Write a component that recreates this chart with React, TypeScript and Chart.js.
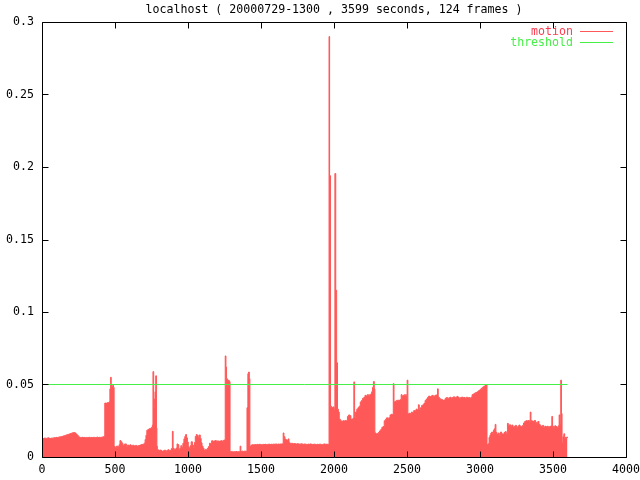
import React, { useEffect, useRef } from 'react';
import { Chart, registerables } from 'chart.js';

Chart.register(...registerables);

const titleText = 'localhost ( 20000729-1300 , 3599 seconds, 124 frames )';
const seriesNames = ['motion', 'threshold'];
const xTickValues = [0, 500, 1000, 1500, 2000, 2500, 3000, 3500, 4000];
const yTickValues = [0, 0.05, 0.1, 0.15, 0.2, 0.25, 0.3];

// motion samples: seconds
const motionTimes = [
  0, 8, 16, 24, 32, 40, 48, 56, 64, 72, 80, 88, 96, 104, 112, 120, 128, 136, 144, 152,
  160, 168, 176, 184, 192, 200, 208, 216, 224, 232, 240, 248, 256, 264, 272, 280, 288, 296, 304, 312,
  320, 328, 336, 344, 352, 360, 368, 376, 384, 392, 400, 408, 416, 424, 430, 438, 446, 454, 460, 465,
  470, 474, 479, 485, 490, 494, 500, 510, 520, 528, 534, 540, 547, 554, 562, 570, 578, 586, 594, 602,
  610, 620, 630, 640, 650, 660, 670, 680, 690, 700, 706, 712, 718, 726, 734, 742, 750, 756, 760, 765,
  770, 774, 779, 784, 787, 790, 798, 806, 814, 822, 830, 838, 846, 854, 862, 870, 878, 886, 893, 898,
  905, 913, 920, 925, 931, 937, 944, 951, 958, 965, 972, 978, 984, 990, 996, 1002, 1008, 1015, 1022, 1030,
  1037, 1044, 1050, 1057, 1063, 1070, 1077, 1084, 1090, 1096, 1103, 1110, 1118, 1125, 1132, 1140, 1147, 1154, 1162, 1170,
  1178, 1186, 1194, 1202, 1210, 1218, 1226, 1234, 1242, 1250, 1255, 1260, 1264, 1270, 1276, 1282, 1288, 1296, 1304, 1312,
  1320, 1328, 1336, 1344, 1352, 1357, 1362, 1370, 1378, 1386, 1394, 1400, 1404, 1410, 1415, 1420, 1424, 1432, 1440, 1448,
  1456, 1464, 1472, 1480, 1488, 1496, 1504, 1512, 1520, 1528, 1536, 1544, 1552, 1560, 1568, 1576, 1584, 1592, 1600, 1608,
  1616, 1624, 1632, 1640, 1648, 1652, 1657, 1664, 1672, 1680, 1686, 1692, 1700, 1708, 1716, 1724, 1732, 1740, 1748, 1756,
  1764, 1772, 1780, 1788, 1796, 1804, 1812, 1820, 1828, 1836, 1844, 1852, 1860, 1868, 1876, 1884, 1892, 1900, 1908, 1916,
  1924, 1932, 1940, 1948, 1956, 1962, 1966, 1970, 1976, 1984, 1992, 2000, 2006, 2012, 2018, 2024, 2030, 2036, 2044, 2052,
  2060, 2068, 2076, 2084, 2092, 2100, 2108, 2116, 2124, 2132, 2136, 2141, 2148, 2156, 2164, 2172, 2180, 2188, 2196, 2204,
  2212, 2220, 2228, 2236, 2244, 2252, 2258, 2264, 2270, 2276, 2280, 2288, 2296, 2304, 2312, 2320, 2328, 2336, 2344, 2352,
  2360, 2368, 2376, 2384, 2392, 2400, 2406, 2411, 2420, 2428, 2436, 2444, 2452, 2460, 2466, 2474, 2482, 2490, 2496, 2501,
  2506, 2514, 2522, 2530, 2538, 2546, 2554, 2562, 2570, 2578, 2584, 2592, 2600, 2608, 2616, 2624, 2632, 2640, 2648, 2656,
  2664, 2672, 2680, 2688, 2696, 2704, 2709, 2714, 2722, 2730, 2738, 2746, 2754, 2762, 2770, 2778, 2786, 2794, 2802, 2810,
  2818, 2826, 2834, 2842, 2850, 2858, 2866, 2874, 2882, 2890, 2898, 2906, 2914, 2922, 2930, 2938, 2946, 2954, 2962, 2970,
  2978, 2986, 2994, 3002, 3010, 3018, 3026, 3034, 3042, 3048, 3056, 3062, 3068, 3074, 3080, 3086, 3092, 3098, 3104, 3109,
  3116, 3124, 3132, 3140, 3148, 3156, 3164, 3172, 3180, 3188, 3194, 3202, 3210, 3218, 3226, 3234, 3242, 3250, 3258, 3266,
  3274, 3282, 3290, 3298, 3306, 3314, 3322, 3330, 3338, 3344, 3349, 3356, 3364, 3372, 3380, 3388, 3396, 3404, 3412, 3420,
  3428, 3436, 3444, 3452, 3460, 3468, 3476, 3484, 3492, 3497, 3504, 3512, 3520, 3528, 3536, 3542, 3548, 3553, 3558, 3562,
  3568, 3574, 3580, 3588, 3594, 3599,
];

const motionValues = [
  0.0130, 0.0127, 0.0131, 0.0128, 0.0130, 0.0132, 0.0129, 0.0127, 0.0131, 0.0130, 0.0133, 0.0132, 0.0135, 0.0134, 0.0137, 0.0139, 0.0140, 0.0142, 0.0145, 0.0147,
  0.0150, 0.0153, 0.0156, 0.0158, 0.0161, 0.0164, 0.0167, 0.0169, 0.0166, 0.0158, 0.0150, 0.0140, 0.0135, 0.0134, 0.0136, 0.0134, 0.0135, 0.0133, 0.0135, 0.0134,
  0.0136, 0.0133, 0.0135, 0.0134, 0.0136, 0.0134, 0.0135, 0.0137, 0.0134, 0.0136, 0.0135, 0.0137, 0.0139, 0.0142, 0.0372, 0.0370, 0.0374, 0.0376, 0.0380, 0.0470,
  0.0550, 0.0500, 0.0485, 0.0495, 0.0480, 0.0072, 0.0068, 0.0075, 0.0070, 0.0085, 0.0114, 0.0105, 0.0095, 0.0078, 0.0088, 0.0090, 0.0075, 0.0082, 0.0077, 0.0084,
  0.0078, 0.0081, 0.0076, 0.0080, 0.0074, 0.0079, 0.0082, 0.0086, 0.0088, 0.0095, 0.0120, 0.0150, 0.0185, 0.0190, 0.0195, 0.0198, 0.0205, 0.0220, 0.0589, 0.0340,
  0.0400, 0.0450, 0.0560, 0.0200, 0.0075, 0.0050, 0.0042, 0.0048, 0.0045, 0.0038, 0.0043, 0.0047, 0.0040, 0.0045, 0.0050, 0.0043, 0.0046, 0.0058, 0.0177, 0.0060,
  0.0048, 0.0055, 0.0062, 0.0090, 0.0085, 0.0050, 0.0060, 0.0078, 0.0065, 0.0095, 0.0125, 0.0142, 0.0155, 0.0132, 0.0103, 0.0070, 0.0060, 0.0078, 0.0105, 0.0082,
  0.0065, 0.0100, 0.0142, 0.0155, 0.0148, 0.0135, 0.0152, 0.0128, 0.0098, 0.0075, 0.0060, 0.0045, 0.0052, 0.0048, 0.0060, 0.0072, 0.0095, 0.0090, 0.0112, 0.0108,
  0.0110, 0.0113, 0.0109, 0.0111, 0.0108, 0.0110, 0.0112, 0.0109, 0.0115, 0.0118, 0.0697, 0.0620, 0.0540, 0.0525, 0.0530, 0.0520, 0.0036, 0.0038, 0.0035, 0.0037,
  0.0036, 0.0038, 0.0035, 0.0037, 0.0036, 0.0075, 0.0038, 0.0040, 0.0038, 0.0041, 0.0039, 0.0040, 0.0340, 0.0575, 0.0586, 0.0540, 0.0074, 0.0082, 0.0085, 0.0083,
  0.0086, 0.0084, 0.0087, 0.0085, 0.0088, 0.0086, 0.0085, 0.0087, 0.0086, 0.0088, 0.0085, 0.0087, 0.0089, 0.0086, 0.0088, 0.0087, 0.0089, 0.0088, 0.0090, 0.0087,
  0.0089, 0.0088, 0.0090, 0.0089, 0.0092, 0.0166, 0.0140, 0.0122, 0.0118, 0.0112, 0.0125, 0.0098, 0.0092, 0.0095, 0.0090, 0.0093, 0.0091, 0.0089, 0.0092, 0.0090,
  0.0088, 0.0091, 0.0089, 0.0087, 0.0090, 0.0088, 0.0086, 0.0089, 0.0087, 0.0090, 0.0088, 0.0086, 0.0089, 0.0087, 0.0085, 0.0088, 0.0086, 0.0089, 0.0087, 0.0085,
  0.0088, 0.0090, 0.0087, 0.0089, 0.0086, 0.0088, 0.2900, 0.1940, 0.0350, 0.0340, 0.0345, 0.0330, 0.1955, 0.1150, 0.0650, 0.0330, 0.0310, 0.0260, 0.0250, 0.0245,
  0.0250, 0.0248, 0.0252, 0.0250, 0.0280, 0.0290, 0.0285, 0.0260, 0.0262, 0.0270, 0.0518, 0.0270, 0.0310, 0.0330, 0.0340, 0.0350, 0.0380, 0.0390, 0.0405, 0.0410,
  0.0425, 0.0420, 0.0430, 0.0425, 0.0430, 0.0435, 0.0450, 0.0480, 0.0520, 0.0470, 0.0166, 0.0158, 0.0162, 0.0170, 0.0180, 0.0190, 0.0205, 0.0210, 0.0250, 0.0260,
  0.0270, 0.0268, 0.0270, 0.0290, 0.0295, 0.0290, 0.0506, 0.0380, 0.0385, 0.0390, 0.0392, 0.0390, 0.0395, 0.0430, 0.0420, 0.0425, 0.0430, 0.0425, 0.0430, 0.0530,
  0.0297, 0.0302, 0.0300, 0.0310, 0.0305, 0.0320, 0.0318, 0.0330, 0.0325, 0.0360, 0.0330, 0.0340, 0.0355, 0.0360, 0.0370, 0.0390, 0.0400, 0.0410, 0.0420, 0.0415,
  0.0420, 0.0425, 0.0418, 0.0422, 0.0428, 0.0420, 0.0470, 0.0412, 0.0402, 0.0398, 0.0395, 0.0390, 0.0393, 0.0405, 0.0410, 0.0402, 0.0408, 0.0412, 0.0405, 0.0410,
  0.0415, 0.0408, 0.0412, 0.0418, 0.0410, 0.0405, 0.0410, 0.0413, 0.0408, 0.0410, 0.0405, 0.0412, 0.0408, 0.0410, 0.0405, 0.0412, 0.0430, 0.0435, 0.0440, 0.0445,
  0.0448, 0.0455, 0.0460, 0.0468, 0.0475, 0.0482, 0.0488, 0.0493, 0.0498, 0.0085, 0.0092, 0.0135, 0.0150, 0.0165, 0.0172, 0.0160, 0.0185, 0.0195, 0.0225, 0.0170,
  0.0155, 0.0165, 0.0150, 0.0172, 0.0160, 0.0155, 0.0168, 0.0175, 0.0160, 0.0232, 0.0215, 0.0222, 0.0212, 0.0220, 0.0205, 0.0212, 0.0218, 0.0205, 0.0210, 0.0220,
  0.0212, 0.0208, 0.0218, 0.0235, 0.0245, 0.0250, 0.0248, 0.0252, 0.0245, 0.0310, 0.0250, 0.0248, 0.0245, 0.0252, 0.0240, 0.0232, 0.0245, 0.0225, 0.0215, 0.0210,
  0.0218, 0.0205, 0.0212, 0.0208, 0.0212, 0.0205, 0.0210, 0.0214, 0.0280, 0.0212, 0.0205, 0.0215, 0.0210, 0.0202, 0.0215, 0.0290, 0.0220, 0.0530, 0.0300, 0.0098,
  0.0140, 0.0160, 0.0135, 0.0130, 0.0138, 0.0132,
];

const thresholdTimes = [0, 3599];
const thresholdValues = [0.05, 0.05];

const FONT = '"DejaVu Sans Mono", monospace';
const FONT_SIZE = 11.6;
const MOTION_COLOR = 'rgb(255,88,88)';
const MOTION_TEXT = 'rgb(255,60,80)';
const THRESH_COLOR = 'rgb(70,240,70)';

const fmt = (v: number) => String(Number(v.toFixed(2)));

const gnuplotFrame = {
  id: 'gnuplotFrame',
  afterDatasetsDraw(chart: any) {
    const { ctx, chartArea } = chart;
    const xs = chart.scales.x;
    const ys = chart.scales.y;
    const L = Math.round(chartArea.left) + 0.5;
    const R = Math.round(chartArea.right) + 0.5;
    const T = Math.round(chartArea.top) + 0.5;
    const B = Math.round(chartArea.bottom) + 0.5;
    const tick = 6;
    ctx.save();
    ctx.strokeStyle = '#000';
    ctx.lineWidth = 1;
    ctx.beginPath();
    ctx.rect(L, T, R - L, B - T);
    for (const t of ys.ticks) {
      const y = Math.round(ys.getPixelForValue(t.value)) + 0.5;
      ctx.moveTo(L, y); ctx.lineTo(L + tick, y);
      ctx.moveTo(R, y); ctx.lineTo(R - tick, y);
    }
    for (const t of xs.ticks) {
      const x = Math.round(xs.getPixelForValue(t.value)) + 0.5;
      ctx.moveTo(x, B); ctx.lineTo(x, B - tick);
      ctx.moveTo(x, T); ctx.lineTo(x, T + tick);
    }
    ctx.stroke();

    // title
    ctx.font = `${FONT_SIZE}px ${FONT}`;
    ctx.fillStyle = '#000';
    ctx.textAlign = 'center';
    ctx.textBaseline = 'middle';
    ctx.fillText(titleText, (chartArea.left + chartArea.right) / 2, 10);

    // key
    const ds = chart.data.datasets;
    const textColors = [MOTION_TEXT, THRESH_COLOR];
    const lineColors = [MOTION_COLOR, THRESH_COLOR];
    ds.forEach((d: any, i: number) => {
      const y = 31.5 + i * 11;
      ctx.textAlign = 'right';
      ctx.fillStyle = textColors[i];
      ctx.fillText(d.label, 573, y);
      ctx.strokeStyle = lineColors[i];
      ctx.beginPath();
      ctx.moveTo(580, y);
      ctx.lineTo(613, y);
      ctx.stroke();
    });
    ctx.restore();
  },
};

export default function App() {
  const canvasRef = useRef<HTMLCanvasElement | null>(null);

  useEffect(() => {
    document.body.style.margin = '0';
    const canvas = canvasRef.current;
    if (!canvas) return;
    const motionData = motionTimes.map((t, i) => ({ x: t, y: motionValues[i] }));
    const thresholdData = thresholdTimes.map((t, i) => ({ x: t, y: thresholdValues[i] }));
    const tickFont = { family: FONT, size: FONT_SIZE };
    const chart = new Chart(canvas, {
      type: 'line',
      data: {
        datasets: [
          {
            label: seriesNames[0],
            data: motionData,
            stepped: true,
            fill: 'origin',
            backgroundColor: MOTION_COLOR,
            borderColor: MOTION_COLOR,
            borderWidth: 1,
            pointRadius: 0,
            order: 2,
          },
          {
            label: seriesNames[1],
            data: thresholdData,
            fill: false,
            borderColor: THRESH_COLOR,
            borderWidth: 1,
            pointRadius: 0,
            order: 1,
          },
        ],
      },
      options: {
        animation: false,
        responsive: true,
        maintainAspectRatio: false,
        parsing: false,
        normalized: true,
        layout: { padding: { top: 22, right: 14, left: 0, bottom: 0 } },
        plugins: {
          legend: { display: false },
          title: { display: false },
          tooltip: { enabled: false },
        },
        scales: {
          x: {
            type: 'linear',
            min: 0,
            max: 4000,
            afterBuildTicks: (s: any) => { s.ticks = xTickValues.map((v) => ({ value: v })); },
            afterFit: (s: any) => { s.height = 23; s.paddingLeft = 0; s.paddingRight = 0; },
            grid: { display: false, drawTicks: false },
            border: { display: false },
            ticks: {
              color: '#000',
              font: tickFont,
              padding: 6,
              maxRotation: 0,
              autoSkip: false,
              callback: (v: any) => String(v),
            },
          },
          y: {
            type: 'linear',
            min: 0,
            max: 0.3,
            afterBuildTicks: (s: any) => { s.ticks = yTickValues.map((v) => ({ value: v })); },
            afterFit: (s: any) => { s.width = 42; s.paddingTop = 0; s.paddingBottom = 0; },
            grid: { display: false, drawTicks: false },
            border: { display: false },
            ticks: {
              color: '#000',
              font: tickFont,
              padding: 8,
              autoSkip: false,
              callback: (v: any) => fmt(Number(v)),
            },
          },
        },
      },
      plugins: [gnuplotFrame],
    });
    return () => chart.destroy();
  }, []);

  return (
    <div style={{ position: 'relative', width: 640, height: 480 }}>
      <canvas ref={canvasRef} />
    </div>
  );
}
